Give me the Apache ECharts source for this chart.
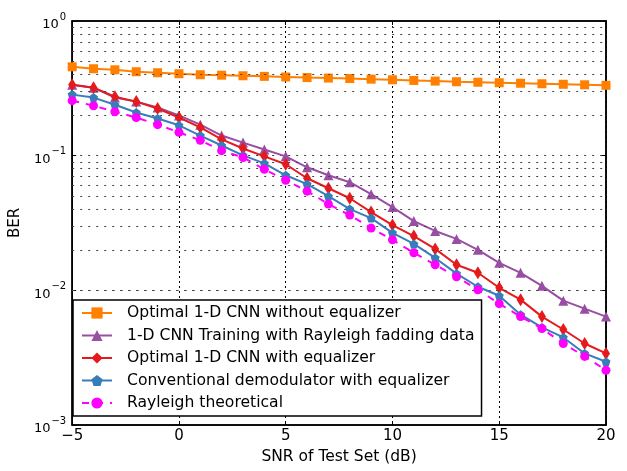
<!DOCTYPE html>
<html>
<head>
<meta charset="utf-8">
<script src="https://cdn.jsdelivr.net/npm/echarts@6/dist/echarts.min.js"></script>
<style>
  html, body { margin: 0; padding: 0; background: #fff; }
  #chart { width: 627px; height: 471px; }
</style>
</head>
<body>
<div id="chart"></div>
<script>
// SNR (dB)
var snr = [-5, -4, -3, -2, -1, 0, 1, 2, 3, 4, 5, 6, 7, 8, 9, 10, 11, 12, 13, 14, 15, 16, 17, 18, 19, 20]
// BER values
var cnnNoEq = [0.457, 0.442, 0.434, 0.42, 0.413, 0.406, 0.399, 0.396, 0.392, 0.388, 0.384, 0.380, 0.377, 0.374, 0.370, 0.366, 0.362, 0.358, 0.354, 0.351, 0.348, 0.345, 0.342, 0.339, 0.336, 0.333]
var cnnRayleigh = [0.336, 0.32, 0.27, 0.252, 0.228, 0.199, 0.170, 0.141, 0.125, 0.111, 0.0988, 0.082, 0.0715, 0.0635, 0.0518, 0.0415, 0.0327, 0.0276, 0.0241, 0.020, 0.016, 0.0135, 0.0108, 0.00838, 0.00731, 0.00638]
var cnnEq = [0.336, 0.32, 0.274, 0.252, 0.224, 0.192, 0.162, 0.132, 0.113, 0.0988, 0.0863, 0.068, 0.0573, 0.0483, 0.0381, 0.0305, 0.0253, 0.0203, 0.0155, 0.0135, 0.01045, 0.00853, 0.00638, 0.00512, 0.00403, 0.0034]
var convEq = [0.284, 0.27, 0.239, 0.209, 0.189, 0.168, 0.141, 0.119, 0.1005, 0.0877, 0.0715, 0.0614, 0.050, 0.0401, 0.0344, 0.0267, 0.0221, 0.0174, 0.0133, 0.01063, 0.00912, 0.0066, 0.0053, 0.00447, 0.0034, 0.00295]
var theory = [0.256, 0.235, 0.212, 0.192, 0.170, 0.149, 0.130, 0.109, 0.097, 0.0792, 0.0657, 0.0545, 0.0437, 0.0362, 0.029, 0.0237, 0.019, 0.0155, 0.0126, 0.0101, 0.00796, 0.00638, 0.0052, 0.00403, 0.00323, 0.00255]
// minor grid lines of the log axis
var minorGrid = [0.002, 0.003, 0.004, 0.005, 0.006, 0.007, 0.008, 0.009,
  0.02, 0.03, 0.04, 0.05, 0.06, 0.07, 0.08, 0.09,
  0.2, 0.3, 0.4, 0.5, 0.6, 0.7, 0.8, 0.9]

var names = [
  'Optimal 1-D CNN without equalizer',
  '1-D CNN Training with Rayleigh fadding data',
  'Optimal 1-D CNN with equalizer',
  'Conventional demodulator with equalizer',
  'Rayleigh theoretical'
]

function pairs(arr) {
  return snr.map(function (x, i) { return [x, arr[i]] })
}

var font = 'DejaVu Sans'
var chart = echarts.init(document.getElementById('chart'))
var option = {
  animation: false,
  textStyle: { fontFamily: font },
  legend: {
    orient: 'vertical',
    left: 73,
    top: 300,
    padding: [5, 7, 5, 8],
    itemGap: 6.5,
    itemWidth: 30,
    itemHeight: 14,
    borderColor: '#000',
    borderWidth: 1.5,
    backgroundColor: '#fff',
    formatter: function (name) { return '{t|' + name + '}' },
    textStyle: {
      fontSize: 15.6, lineHeight: 16, color: '#000', fontFamily: font,
      rich: { t: { fontSize: 15.6, lineHeight: 16, color: '#000', fontFamily: font, padding: [0, 0, 0, 10] } }
    },
    data: names
  },
  grid: {
    left: 67,
    right: 21,
    top: 21,
    bottom: 46,
    show: true,
    borderColor: '#000',
    borderWidth: 1.5,
    containLabel: false
  },
  xAxis: [{
    type: 'value',
    min: -5,
    max: 20,
    interval: 5,
    name: 'SNR of Test Set (dB)',
    nameLocation: 'middle',
    nameGap: 22,
    nameTextStyle: { fontSize: 15.5, color: '#000', fontFamily: font },
    axisLine: { onZero: false, lineStyle: { color: '#000', width: 1.5 } },
    axisTick: { inside: true, length: 4, lineStyle: { color: '#000' } },
    axisLabel: {
      fontSize: 15, color: '#000', margin: 4,
      formatter: function (v) { return String(v).replace('-', '\u2212') }
    },
    splitLine: { show: true, lineStyle: { color: '#000', type: [2, 3], width: 1 } }
  }, {
    type: 'value', position: 'top', min: -5, max: 20, interval: 5,
    axisLine: { onZero: false, lineStyle: { color: '#000', width: 1.5 } },
    axisTick: { inside: true, length: 4, lineStyle: { color: '#000' } },
    axisLabel: { show: false },
    splitLine: { show: false }
  }],
  yAxis: [{
    type: 'log',
    logBase: 10,
    min: 0.001,
    max: 1,
    name: 'BER',
    nameLocation: 'middle',
    nameGap: 42,
    nameTextStyle: { fontSize: 15, color: '#000', fontFamily: font },
    axisLine: { onZero: false, lineStyle: { color: '#000', width: 1.5 } },
    axisTick: { inside: true, length: 4, lineStyle: { color: '#000' } },
    axisLabel: {
      margin: 6,
      formatter: function (v) {
        var e = Math.round(Math.log10(v))
        return '{b|10}{s|' + (e < 0 ? '\u2212' + (-e) : e) + '}'
      },
      rich: {
        b: { fontSize: 13, color: '#000', fontFamily: font, padding: [8, 0, 0, 0] },
        s: { fontSize: 10, color: '#000', fontFamily: font, padding: [0, 0, 8, 1] }
      }
    },
    splitLine: { show: true, lineStyle: { color: '#333', type: [2, 6], width: 1 } }
  }, {
    type: 'log', logBase: 10, min: 0.001, max: 1, position: 'right',
    axisLine: { onZero: false, lineStyle: { color: '#000', width: 1.5 } },
    axisTick: { inside: true, length: 4, lineStyle: { color: '#000' } },
    axisLabel: { show: false },
    splitLine: { show: false }
  }],
  series: [
    {
      name: names[0],
      type: 'line',
      data: pairs(cnnNoEq),
      symbol: 'rect',
      symbolSize: 9,
      color: '#ff7f00',
      lineStyle: { width: 2 },
      markLine: {
        silent: true,
        symbol: 'none',
        label: { show: false },
        lineStyle: { color: '#444', type: [2, 6], width: 1 },
        data: minorGrid.map(function (v) { return { yAxis: v } })
      },
      z: 2
    },
    {
      name: names[1],
      type: 'line',
      data: pairs(cnnRayleigh),
      symbol: 'triangle',
      symbolSize: 10,
      color: '#984ea3',
      lineStyle: { width: 2 },
      z: 3
    },
    {
      name: names[2],
      type: 'line',
      data: pairs(cnnEq),
      symbol: 'diamond',
      symbolSize: [8, 13],
      color: '#e41a1c',
      lineStyle: { width: 2 },
      z: 4
    },
    {
      name: names[3],
      type: 'line',
      data: pairs(convEq),
      symbol: 'path://M0,-10 L9.5,-3.1 L5.9,8.1 L-5.9,8.1 L-9.5,-3.1 Z',
      symbolSize: 9,
      color: '#377eb8',
      lineStyle: { width: 2 },
      z: 5
    },
    {
      name: names[4],
      type: 'line',
      data: pairs(theory),
      symbol: 'circle',
      symbolSize: 9,
      color: '#ff00ff',
      lineStyle: { width: 2, type: [7, 7] },
      z: 6
    }
  ]
}
chart.setOption(option)
</script>
</body>
</html>
